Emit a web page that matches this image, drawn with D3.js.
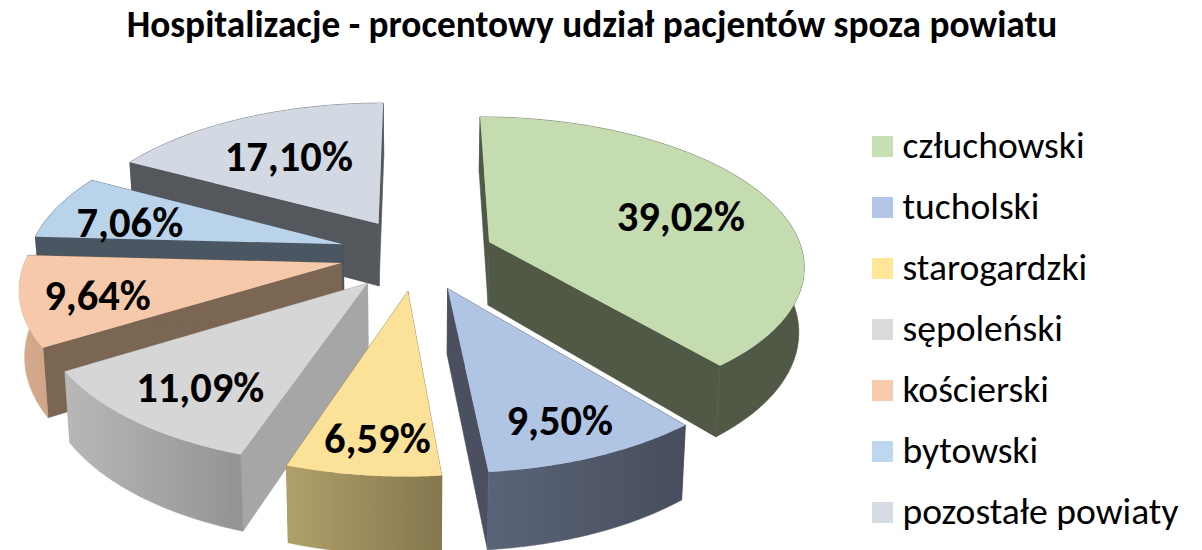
<!DOCTYPE html>
<html lang="pl">
<head>
<meta charset="utf-8">
<title>Hospitalizacje</title>
<script src="https://d3js.org/d3.v7.min.js"></script>
<style>
  html, body { margin: 0; padding: 0; background: #fff; }
  svg { display: block; font-family: Carlito, Lato, sans-serif; }
</style>
</head>
<body>
<svg width="1202" height="550"></svg>
<script>
const titleText = "Hospitalizacje - procentowy udział pacjentów spoza powiatu";
const categories = ["człuchowski", "tucholski", "starogardzki", "sępoleński", "kościerski", "bytowski", "pozostałe powiaty"];
const shares = [39.02, 9.50, 6.59, 11.09, 9.64, 7.06, 17.10];

// colours by slice
const topColors = ["#c5dcb0", "#b0c4e3", "#fbe298", "#d6d6d6", "#f5c9aa", "#b8d3ea", "#d2d9e3"];
const wallColors = ["#4f5946", "#4a5060", "#84774e", "#a6a6a6", "#7b6553", "#4a5661", "#54585c"];
const outerFrom = ["#4f5946", "#5a6479", "#b0a06a", "#b8b8b8", "#d6ab8e", "#4a5661", "#54585c"];
const outerTo = ["#4f5946", "#474d5c", "#84774e", "#939393", "#d0a487", "#4a5661", "#54585c"];
const legendColors = ["#c6e0b4", "#b4c6e7", "#ffe699", "#dbdbdb", "#f8cbad", "#bdd7ee", "#d6dce5"];

// label placement inside each slice: radius and degrees off the middle of the slice
const labelRadius = [0.67, 0.80, 0.817, 0.76, 0.767, 0.726, 0.628];
const labelTurn = [3, 0.7, -1, -1.4, -1.4, -2.7, -0.5];
// back to front, slices nearer the viewer paint over the others
const paintOrder = [6, 5, 4, 3, 2, 0, 1];

// 3d view of the pie
const cx = 417, cy = 254;
const radiusX = 314, radiusZ = 146.4;
const persp = 0.145, explode = 0.247;
const depth = 64, bottomShrink = 0.986;

const svg = d3.select("svg");

function project(x, z) {
  const s = 1 / (1 - persp * z);
  return [cx + radiusX * x * s, cy + radiusZ * z * s, s];
}
function drop(p) {
  return [cx + (p[0] - cx) * bottomShrink, p[1] + depth * p[2]];
}
// point at angle ang, distance r from the tip of an exploded slice
function onSlice(a, ang, r) {
  const mid = (a.startAngle + a.endAngle) / 2;
  const ox = explode * Math.sin(mid), oz = -explode * Math.cos(mid);
  return project(ox + r * Math.sin(ang), oz - r * Math.cos(ang));
}

const pie = d3.pie().sort(null).value(d => d);
const arcs = pie(shares);

const line = d3.line();
const defs = svg.append("defs");

arcs.forEach((a, i) => {
  const grad = defs.append("linearGradient").attr("id", "outer" + i);
  grad.append("stop").attr("offset", "0%").attr("stop-color", outerFrom[i]);
  grad.append("stop").attr("offset", "100%").attr("stop-color", outerTo[i]);
});

paintOrder.forEach(i => {
  const a = arcs[i];
  const apex = onSlice(a, 0, 0);
  const rim = d3.range(0, 61).map(k => onSlice(a, a.startAngle + (a.endAngle - a.startAngle) * k / 60, 1));
  const g = svg.append("g").attr("class", "slice");

  // straight walls under the two cut edges
  [rim[0], rim[60]].forEach(p => {
    g.append("path")
      .attr("d", line([apex, p, drop(p), drop(apex)].map(q => q.slice(0, 2))) + "Z")
      .attr("fill", wallColors[i])
      .attr("stroke", wallColors[i])
      .attr("stroke-width", 0.6);
  });
  // curved wall, thin stroke so no seam shows at the corners
  g.append("path")
    .attr("d", line(rim.map(q => q.slice(0, 2)).concat(rim.map(drop).reverse())) + "Z")
    .attr("fill", "url(#outer" + i + ")")
    .attr("stroke", "url(#outer" + i + ")")
    .attr("stroke-width", 0.6);
  // top
  g.append("path")
    .attr("d", line([apex].concat(rim).map(q => q.slice(0, 2))) + "Z")
    .attr("fill", topColors[i]);
});

// labels go on after all slices
const fmt = d3.formatLocale({ decimal: ",", thousands: " ", grouping: [3], currency: ["", ""] }).format(".2f");
arcs.forEach((a, i) => {
  const mid = (a.startAngle + a.endAngle) / 2 + labelTurn[i] * Math.PI / 180;
  const p = onSlice(a, mid, labelRadius[i]);
  svg.append("text")
    .attr("x", p[0]).attr("y", p[1] + 1)
    .attr("text-anchor", "middle")
    .attr("dominant-baseline", "central")
    .attr("font-size", 42.5)
    .attr("font-weight", 700)
    .attr("fill", "#000")
    .text(fmt(shares[i]) + "%");
});

svg.append("text")
  .attr("x", 592).attr("y", 37)
  .attr("text-anchor", "middle")
  .attr("font-size", 37.3)
  .attr("font-weight", 700)
  .attr("fill", "#000")
  .text(titleText);

// legend
const legendY = d3.scalePoint().domain(categories).range([146.5, 512.5]);
const legend = svg.append("g").selectAll("g").data(categories).join("g")
  .attr("transform", d => `translate(872,${legendY(d)})`);
legend.append("rect")
  .attr("y", -10.5).attr("width", 21).attr("height", 21)
  .attr("fill", (d, i) => legendColors[i]);
legend.append("text")
  .attr("x", 30.5).attr("y", 11)
  .attr("font-size", 37.6)
  .attr("fill", "#000")
  .text(d => d);
</script>
</body>
</html>
